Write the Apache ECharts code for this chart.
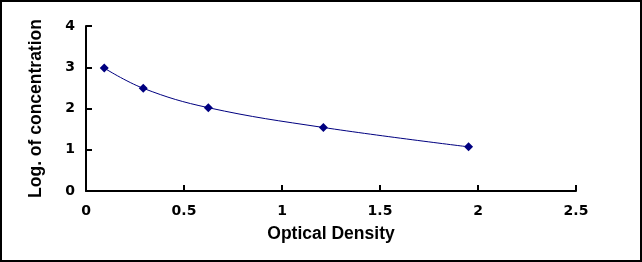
<!DOCTYPE html>
<html><head><meta charset="utf-8">
<script src="https://cdn.jsdelivr.net/npm/echarts@6/dist/echarts.min.js"></script>
<style>html,body{margin:0;padding:0;background:#fff}#c{width:642px;height:262px}</style>
</head><body><div id="c"></div>
<script>
const xValues = [0.093, 0.292, 0.624, 1.211, 1.952];
const yValues = [2.98, 2.49, 2.02, 1.54, 1.07];
const xTicks = [0, 0.5, 1, 1.5, 2, 2.5];
const yTicks = [0, 1, 2, 3, 4];
const xTitle = 'Optical Density';
const yTitle = 'Log. of concentration';

const chart = echarts.init(document.getElementById('c'), null, {renderer: 'canvas'});
const titleFont = '"Liberation Sans", Arial, sans-serif';
const tickFont = '"DejaVu Sans", Verdana, sans-serif';
const axisCommon = {
  axisLine: {show: true, lineStyle: {color: '#000', width: 2}},
  axisTick: {show: true, inside: true, length: 6, lineStyle: {color: '#000', width: 2}},
  splitLine: {show: false},
  axisLabel: {color: '#000', fontWeight: 'bold', fontSize: 14, fontFamily: tickFont},
  nameTextStyle: {color: '#000', fontWeight: 'bold', fontSize: 17.5, fontFamily: titleFont},
  nameLocation: 'middle'
};
chart.setOption({
  animation: false,
  backgroundColor: '#fff',
  graphic: [{type: 'rect', shape: {x: 1, y: 1, width: 640, height: 260}, style: {fill: 'none', stroke: '#000', lineWidth: 2}, silent: true}],
  grid: {left: 86, right: 66, top: 26, bottom: 71},
  xAxis: Object.assign({}, axisCommon, {
    type: 'value', min: xTicks[0], max: xTicks[xTicks.length - 1], interval: 0.5,
    name: xTitle, nameGap: 34,
    axisLabel: Object.assign({}, axisCommon.axisLabel, {margin: 13})
  }),
  yAxis: Object.assign({}, axisCommon, {
    type: 'value', min: yTicks[0], max: yTicks[yTicks.length - 1], interval: 1,
    name: yTitle, nameGap: 41,
    axisLabel: Object.assign({}, axisCommon.axisLabel, {margin: 11})
  }),
  series: [{
    type: 'line',
    data: xValues.map((x, i) => [x, yValues[i]]),
    smooth: 0.4,
    symbol: 'diamond', symbolSize: 9,
    itemStyle: {color: '#000080'},
    lineStyle: {color: '#000080', width: 1}
  }]
});
</script></body></html>
